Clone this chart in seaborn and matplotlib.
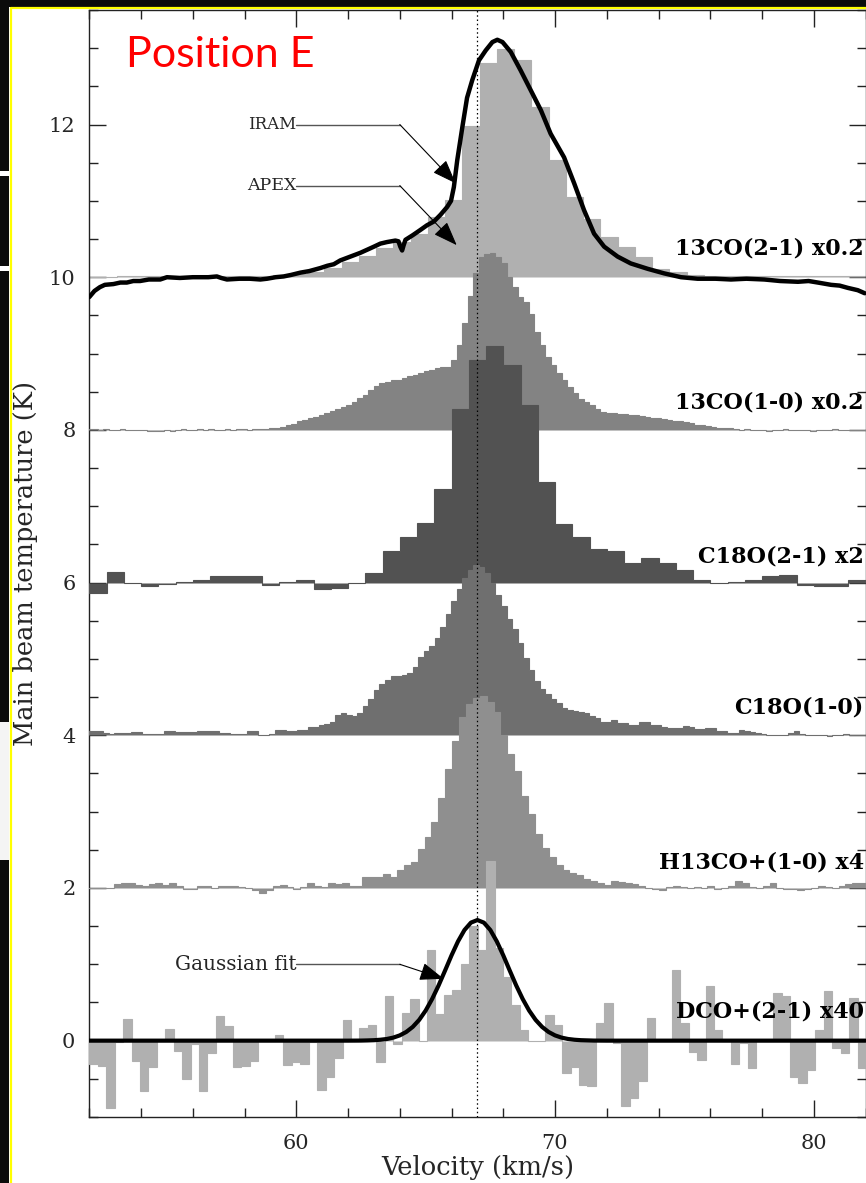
import numpy as np
import matplotlib
matplotlib.use("Agg")
import matplotlib.pyplot as plt
import seaborn as sns
from matplotlib.patches import Rectangle
from matplotlib.lines import Line2D

# ------------------------------------------------------------------ data
# Each spectrum: channel grid (first edge, channel width) + channel values
# (values are displayed, already-scaled temperatures above the spectrum's offset)

# 13CO(2-1) APEX (x0.2), offset 10
co13_21_start, co13_21_width, co13_21_offset = 51.75, 2 / 3, 10
co13_21_apex = [0.0, 0.0, 0.02, 0.02, 0.02, 0.02, 0.02, 0.02, 0.02, 0.02,
                0.02, 0.03, 0.04, 0.07, 0.12, 0.20, 0.28, 0.38, 0.46, 0.57,
                0.79, 1.01, 1.98, 2.80, 2.99, 2.85, 2.23, 1.54, 1.05, 0.76,
                0.53, 0.40, 0.27, 0.11, 0.07, 0.03, 0.02, 0.02, 0.02, 0.02,
                0.02, 0.02, 0.02, 0.02, 0.02, 0.02]

# 13CO(2-1) IRAM (x0.2), absolute plotted values
iram_v = [52.0, 52.2, 52.41, 52.6, 52.93, 53.2, 53.45, 53.7, 53.96, 54.3,
          54.74, 55.0, 55.5, 56.0, 56.3, 56.6, 56.93, 57.1, 57.32, 57.8,
          58.2, 58.61, 58.87, 59.2, 59.51, 59.8, 60.16, 60.5, 60.93, 61.2,
          61.45, 61.7, 62.09, 62.48, 62.74, 63.0, 63.25, 63.5, 63.83, 63.95,
          64.02, 64.09, 64.15, 64.22, 64.5, 64.8, 65.05, 65.32, 65.58, 65.83,
          65.98, 66.09, 66.22, 66.32, 66.42, 66.6, 66.8, 67.06, 67.32, 67.58,
          67.77, 67.97, 68.29, 68.67, 69.06, 69.45, 69.83, 70.35, 70.74, 71.12,
          71.51, 71.9, 72.42, 72.93, 73.58, 74.22, 74.87, 75.51, 76.2, 76.8,
          77.4, 78.09, 78.7, 79.39, 79.8, 80.16, 80.67, 81.0, 81.32, 81.7,
          81.97]
iram_t = [9.74, 9.82, 9.87, 9.90, 9.91, 9.93, 9.93, 9.95, 9.95, 9.97,
          9.97, 10.0, 9.99, 10.0, 10.0, 10.0, 10.01, 9.99, 9.97, 9.98,
          9.98, 9.97, 9.98, 10.0, 10.01, 10.03, 10.06, 10.08, 10.12, 10.15,
          10.17, 10.22, 10.27, 10.32, 10.36, 10.40, 10.44, 10.46, 10.48, 10.47,
          10.40, 10.35, 10.42, 10.49, 10.55, 10.62, 10.68, 10.73, 10.82, 10.92,
          11.0, 11.18, 11.53, 11.75, 11.97, 12.35, 12.58, 12.84, 12.97, 13.08,
          13.11, 13.08, 12.95, 12.71, 12.45, 12.19, 11.88, 11.57, 11.23, 10.88,
          10.57, 10.40, 10.27, 10.18, 10.11, 10.05, 10.0, 9.98, 9.98, 9.97,
          9.98, 9.97, 9.95, 9.94, 9.95, 9.93, 9.90, 9.89, 9.86, 9.83,
          9.79]

# 13CO(1-0) (x0.2), offset 8
co13_10_start, co13_10_width, co13_10_offset = 51.90, 0.2135, 8
co13_10 = [0.01, 0.01, 0.0, 0.01, 0.0, 0.0, 0.01, 0.0, 0.0, 0.0,
           0.0, -0.01, -0.01, -0.01, 0.0, -0.01, 0.0, 0.01, 0.0, 0.0,
           0.01, 0.0, 0.01, 0.0, 0.0, 0.01, 0.0, 0.01, 0.01, 0.0,
           0.01,
           0.01, 0.01, 0.02, 0.03, 0.04, 0.06, 0.08, 0.11, 0.13, 0.15,
           0.17, 0.19, 0.22, 0.25, 0.27, 0.30, 0.33, 0.37, 0.42, 0.46,
           0.52, 0.58, 0.62, 0.63, 0.65, 0.66, 0.68, 0.70, 0.72, 0.74,
           0.77, 0.79, 0.81, 0.82, 0.83, 0.91, 1.11,
           1.40, 1.76, 2.05, 2.27, 2.31, 2.32, 2.27, 2.18, 2.00, 1.87,
           1.74, 1.68, 1.52, 1.28, 1.11, 0.96, 0.85, 0.74, 0.65, 0.56,
           0.48, 0.41, 0.37, 0.32, 0.28, 0.24,
           0.22, 0.215, 0.21, 0.205, 0.20, 0.19, 0.18, 0.17, 0.16, 0.15,
           0.14, 0.13, 0.12, 0.11, 0.10, 0.09, 0.07, 0.06, 0.05, 0.04,
           0.03, 0.02, 0.02, 0.01,
           0.0, 0.01, 0.0, 0.0, 0.0, -0.01, 0.0, 0.0, 0.01, 0.0,
           0.0, 0.0, 0.0, -0.01, 0.0, 0.0, 0.0, 0.01, 0.0, 0.0,
           0.0, 0.0, 0.0]

# C18O(2-1) (x2), offset 6
c18o_21_start, c18o_21_width, c18o_21_offset = 52.0, 2 / 3, 6
c18o_21 = [-0.13, 0.14, 0.0, -0.04, -0.02, 0.01, 0.04, 0.09, 0.08, 0.09,
           -0.03, 0.01, 0.03, -0.09, -0.07, 0.0, 0.13, 0.42, 0.60, 0.78,
           1.22, 2.27, 2.91, 3.10, 2.85, 2.32, 1.32, 0.77, 0.60, 0.44,
           0.42, 0.26, 0.32, 0.26, 0.17, 0.03, 0.0, 0.01, 0.03, 0.08,
           0.10, -0.03, -0.04, -0.04, 0.03]

# C18O(1-0), offset 4
c18o_10_start, c18o_10_width, c18o_10_offset = 51.90, 0.2135, 4
c18o_10 = [0.05, 0.05, 0.05, 0.03, 0.02, 0.03, 0.03, 0.03, 0.04, 0.04,
           0.02, 0.02, 0.02, 0.02, 0.06, 0.06, 0.04, 0.04, 0.04, 0.04,
           0.05, 0.05, 0.05, 0.05, 0.03, 0.03, 0.02, 0.02, 0.02, 0.05,
           0.05, 0.01, 0.0, 0.02, 0.07, 0.07, 0.06, 0.06, 0.07, 0.07,
           0.11, 0.11, 0.13, 0.15,
           0.18, 0.27, 0.29, 0.27, 0.25, 0.29, 0.39, 0.48, 0.59, 0.67,
           0.73, 0.78, 0.78, 0.79, 0.82, 0.90, 1.02, 1.10, 1.17, 1.28,
           1.42, 1.59, 1.76, 1.91, 2.06, 2.17, 2.23, 2.20, 2.13, 1.99,
           1.84, 1.69, 1.52, 1.39, 1.21, 1.01, 0.86, 0.71, 0.61, 0.54,
           0.48, 0.42, 0.36,
           0.33, 0.32, 0.31, 0.29, 0.25, 0.22, 0.18, 0.18, 0.20, 0.16,
           0.16, 0.14, 0.14, 0.17, 0.17, 0.14, 0.14, 0.11, 0.09, 0.09,
           0.09, 0.12, 0.11, 0.08, 0.08, 0.10, 0.09, 0.05, 0.05, 0.03,
           0.03, 0.07, 0.06, 0.04, 0.03, 0.02, 0.01, 0.01, 0.0, 0.01,
           0.03, 0.05, 0.02, 0.0, 0.01, 0.0, 0.0, -0.01, 0.0, 0.01,
           0.02, 0.01, 0.0, 0.0]

# H13CO+(1-0) (x4), offset 2
h13co_start, h13co_width, h13co_offset = 51.89, 0.2667, 2
h13co = [0.0, 0.0, 0.0, 0.0, 0.05, 0.06, 0.06, 0.04, 0.03, 0.05,
         0.07, 0.04, 0.06, 0.02, -0.01, -0.02, 0.03, 0.02, 0.0, 0.02,
         0.03, 0.03, 0.01, 0.0, -0.03, -0.07, -0.03, 0.02, 0.04, 0.01,
         -0.02, 0.01, 0.07, 0.02, 0.01, 0.06, 0.05, 0.07, 0.03, 0.03,
         0.14, 0.14, 0.15, 0.18, 0.14, 0.24, 0.30, 0.34, 0.51, 0.67,
         0.86, 1.18, 1.56, 1.92, 2.24, 2.41, 2.49, 2.52, 2.43, 2.30,
         2.00, 1.76, 1.53, 1.21, 0.97, 0.71, 0.53, 0.41, 0.30, 0.23,
         0.20, 0.17, 0.12, 0.09, 0.06, 0.04, 0.09, 0.08, 0.06, 0.05,
         0.02, 0.0, -0.02, -0.03, 0.01, 0.02, 0.01, 0.0, 0.01, 0.0,
         0.02, -0.02, 0.0, 0.03, 0.09, 0.07, 0.01, 0.0, 0.03, 0.07,
         0.0, -0.01, -0.02, -0.03, -0.01, 0.0, 0.02, 0.01, 0.0, 0.03,
         0.05, 0.06, 0.07]

# DCO+(2-1) (x40), offset 0
dco_start, dco_width, dco_offset = 52.0, 0.3263, 0
dco = [-0.31, -0.33, -0.88, -0.02, 0.28, -0.27, -0.66, -0.34, 0.0, 0.15,
       -0.14, -0.50, -0.05, -0.66, -0.16, 0.32, 0.19, -0.35, -0.33, -0.26,
       0.0, 0.0, 0.08, -0.32, -0.28, -0.31, -0.02, -0.64, -0.48, -0.23,
       0.27, 0.0, 0.16, 0.20, -0.28, 0.58, -0.05, 0.36, 0.55, 0.0,
       1.19, 0.35, 0.60, 0.67, 1.00, 1.50, 1.19, 2.35, 1.21, 0.84,
       0.47, 0.14, 0.0, 0.0, 0.33, 0.20, -0.42, -0.34, -0.58, -0.59,
       0.23, 0.49, -0.03, -0.86, -0.75, -0.53, 0.30, 0.0, 0.0, 0.92,
       0.23, -0.15, -0.25, 0.71, 0.14, 0.0, -0.30, -0.03, -0.36, 0.0,
       0.0, 0.62, 0.58, -0.47, -0.55, -0.39, 0.14, 0.65, -0.10, -0.16,
       0.56, -0.36]

# Gaussian fit to DCO+
gfit_v = [52.0, 62.0, 62.5, 62.75, 63.0, 63.25, 63.5, 63.75, 64.0, 64.25,
          64.5, 64.75, 65.0, 65.25, 65.5, 65.75, 66.0, 66.25, 66.5, 66.75,
          67.0, 67.25, 67.5, 67.75, 68.0, 68.25, 68.5, 68.75, 69.0, 69.25,
          69.5, 69.75, 70.0, 70.25, 70.5, 70.75, 71.0, 71.5, 72.0, 82.0]
gfit_t = [0.0, 0.0, 0.001, 0.003, 0.006, 0.012, 0.022, 0.040, 0.069, 0.114,
          0.180, 0.272, 0.394, 0.546, 0.723, 0.918, 1.117, 1.300, 1.449, 1.546,
          1.58, 1.546, 1.449, 1.300, 1.117, 0.918, 0.723, 0.546, 0.394, 0.272,
          0.180, 0.114, 0.069, 0.040, 0.022, 0.012, 0.006, 0.001, 0.0, 0.0]

v_systemic = 67.0

line_labels = ["13CO(2-1) x0.2", "13CO(1-0) x0.2", "C18O(2-1) x2",
               "C18O(1-0)", "H13CO+(1-0) x4", "DCO+(2-1) x40"]
annot_texts = ["IRAM", "APEX", "Gaussian fit"]

# ------------------------------------------------------------------ style
sns.set_theme(style="ticks")
plt.rcParams['font.family'] = ['DejaVu Serif']

W, H = 866, 1183
fig = plt.figure(figsize=(W / 100, H / 100), dpi=100)
fig.patch.set_facecolor('white')
ax = fig.add_axes([89.3 / W, 1 - 1117 / H, (865.5 - 89.3) / W, (1117 - 10) / H])
ax.set_facecolor('white')


def spectrum(vals, start, width, offset, color, z):
    vals = np.asarray(vals, dtype=float)
    edges = start + width * np.arange(len(vals) + 1)
    ax.stairs(vals + offset, edges, baseline=offset, fill=True,
              facecolor=color, edgecolor=color, linewidth=0.8, zorder=z)


spectrum(co13_21_apex, co13_21_start, co13_21_width, co13_21_offset, '#b0b0b0', 2)
sns.lineplot(x=iram_v, y=iram_t, ax=ax, color='black', linewidth=3.2,
             sort=False, zorder=3)
spectrum(co13_10, co13_10_start, co13_10_width, co13_10_offset, '#838383', 4)
spectrum(c18o_21, c18o_21_start, c18o_21_width, c18o_21_offset, '#525252', 5)
spectrum(c18o_10, c18o_10_start, c18o_10_width, c18o_10_offset, '#6f6f6f', 6)
spectrum(h13co, h13co_start, h13co_width, h13co_offset, '#8f8f8f', 7)
spectrum(dco, dco_start, dco_width, dco_offset, '#b0b0b0', 8)
sns.lineplot(x=gfit_v, y=gfit_t, ax=ax, color='black', linewidth=3.0,
             sort=False, zorder=9)

ax.axvline(v_systemic, color='black', linestyle=(0, (1.2, 2.2)),
           linewidth=0.9, zorder=20)

# line labels (right-aligned just inside the right edge)
lab_kw = dict(fontsize=16, fontweight='bold', color='black', va='center',
              ha='right', zorder=25, clip_on=False)
label_x = 81.93
label_y = [10.38, 8.36, 6.34, 4.37, 2.33, 0.38]
for txt, ly in zip(line_labels, label_y):
    ax.text(label_x, ly, txt, **lab_kw)

# annotations with callout lines
annot_text_y = [12.0, 11.2, 1.0]
annot_sizes = [12, 12.5, 14.5]
annot_tips = [(66.16, 11.23), (66.2, 10.42), (65.7, 0.81)]
text_x, knee_x = 60.0, 64.0
for txt, ty, fs, tip in zip(annot_texts, annot_text_y, annot_sizes, annot_tips):
    ax.text(text_x, ty, txt, ha='right', va='center', fontsize=fs, zorder=25)
    ax.plot([text_x, knee_x], [ty, ty], color='#555555', linewidth=1.0, zorder=24)
    ax.annotate('', xy=tip, xytext=(knee_x, ty),
                arrowprops=dict(arrowstyle='-|>,head_length=0.75,head_width=0.28',
                                color='black', lw=0.8, mutation_scale=20,
                                shrinkA=0, shrinkB=0),
                zorder=24)

ax.text(53.42, 12.75, 'Position E', color='#ff0000', fontsize=31,
        family=['Lato', 'DejaVu Sans'], ha='left', va='baseline', zorder=30)

# axes
ax.set_xlim(52, 82)
ax.set_ylim(-1, 13.5)
ax.set_xticks([60, 70, 80])
ax.set_xticks(np.arange(52, 83, 2), minor=True)
ax.set_yticks(np.arange(0, 13, 2))
ax.set_yticks(np.arange(-1, 13.6, 0.5), minor=True)
ax.tick_params(which='both', direction='in', top=True, right=True,
               color='#222222', width=1.0)
ax.tick_params(which='major', length=12)
ax.tick_params(which='minor', length=6.5)
ax.tick_params(axis='y', which='major', pad=10, labelsize=15)
ax.tick_params(axis='x', which='major', pad=12, labelsize=15)
for s in ax.spines.values():
    s.set_color('#222222')
    s.set_linewidth(1.0)
    s.set_visible(True)
ax.set_xlabel('Velocity (km/s)', fontsize=18.5, labelpad=2)
ax.set_ylabel('Main beam temperature (K)', fontsize=18.5, labelpad=8)

# screenshot frame (black edge strips and yellow border)
def fy(py):
    return 1 - py / H

fig.add_artist(Rectangle((0, 0), 9 / W, 1, transform=fig.transFigure,
                         facecolor='#0b0b0b', edgecolor='none', zorder=50))
for y0, y1, c in [(171, 176, 'white'), (266, 271, 'white'), (722, 860, '#f4f4f4')]:
    fig.add_artist(Rectangle((0, fy(y1)), 9 / W, (y1 - y0) / H,
                             transform=fig.transFigure, facecolor=c,
                             edgecolor='none', zorder=51))
fig.add_artist(Rectangle((0, fy(7)), 1, 7 / H, transform=fig.transFigure,
                         facecolor='#0b0b0b', edgecolor='none', zorder=50))
fig.add_artist(Line2D([11 / W, 11 / W], [0, fy(8)], transform=fig.transFigure,
                      color='#ffff00', linewidth=1.6, zorder=52))
fig.add_artist(Line2D([11 / W, 1], [fy(8.3), fy(8.3)], transform=fig.transFigure,
                      color='#ffff00', linewidth=1.6, zorder=52))

fig.savefig('out.png', dpi=100, facecolor='white')
